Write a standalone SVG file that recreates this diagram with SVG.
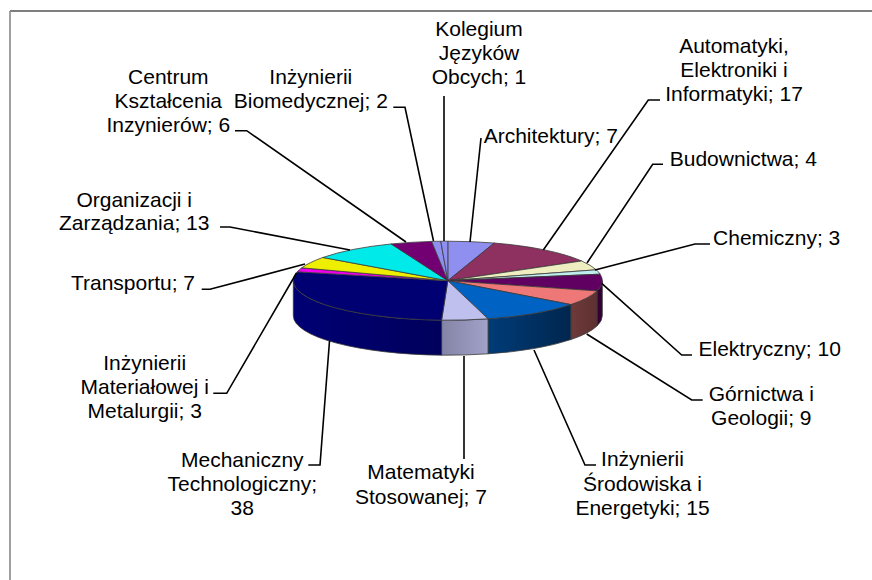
<svg xmlns="http://www.w3.org/2000/svg" width="872" height="580" viewBox="0 0 872 580">
<style>
.lbl{font-family:"Liberation Sans",Arial,sans-serif;font-size:21px;fill:#000;text-anchor:middle}
.sl{stroke:#3a3a3a;stroke-width:0.8;stroke-linejoin:round}
.ld{fill:none;stroke:#000;stroke-width:1.6}
</style>
<defs>
<linearGradient id="gMech" x1="0" y1="0" x2="1" y2="0"><stop offset="0" stop-color="#000074"/><stop offset="1" stop-color="#00005c"/></linearGradient>
<linearGradient id="gMat" x1="0" y1="0" x2="1" y2="0"><stop offset="0" stop-color="#8484a6"/><stop offset="1" stop-color="#a2a2ca"/></linearGradient>
<linearGradient id="gSrod" x1="0" y1="0" x2="1" y2="0"><stop offset="0" stop-color="#003c78"/><stop offset="1" stop-color="#00264e"/></linearGradient>
<linearGradient id="gGorn" x1="0" y1="0" x2="1" y2="0"><stop offset="0" stop-color="#6e3a3a"/><stop offset="1" stop-color="#5e3030"/></linearGradient>
</defs>
<rect width="872" height="580" fill="#fff"/>
<line x1="10" y1="11" x2="872" y2="11" stroke="#000" stroke-width="1.2"/>
<line x1="10" y1="11" x2="10" y2="580" stroke="#888" stroke-width="1.6"/>

<g id="architektury">
<path class="sl" fill="#8f8fef" d="M447.8,280.7 L447.8,241.2 A154.5,39.5 0 0 1 494.26,243.03 Z"/>
<text class="lbl" x="550.8" y="142.5">Architektury; 7</text>
</g>
<g id="automatyki">
<path class="sl" fill="#8e3060" d="M447.8,280.7 L494.26,243.03 A154.5,39.5 0 0 1 581.6,260.95 Z"/>
<text class="lbl" x="734" y="53">Automatyki,</text>
<text class="lbl" x="734" y="77">Elektroniki i</text>
<text class="lbl" x="734" y="101">Informatyki; 17</text>
</g>
<g id="budownictwa">
<path class="sl" fill="#eeeec0" d="M447.8,280.7 L581.6,260.95 A154.5,39.5 0 0 1 596.32,269.81 Z"/>
<text class="lbl" x="743.3" y="166">Budownictwa; 4</text>
</g>
<g id="chemiczny">
<path class="sl" fill="#c0eeee" d="M447.8,280.7 L596.32,269.81 A154.5,39.5 0 0 1 600.18,274.18 Z"/>
<text class="lbl" x="776.7" y="245">Chemiczny; 3</text>
</g>
<g id="elektryczny">
<path class="sl" fill="#330033" d="M602.3,280.7 A154.5,39.5 0 0 1 597.04,290.92 L597.04,325.92 A154.5,39.5 0 0 0 602.3,315.7 Z"/>
<path class="sl" fill="#600060" d="M447.8,280.7 L600.18,274.18 A154.5,39.5 0 0 1 597.04,290.92 Z"/>
<text class="lbl" x="769.7" y="355.5">Elektryczny; 10</text>
</g>
<g id="gornictwa">
<path class="sl" fill="url(#gGorn)" d="M597.04,290.92 A154.5,39.5 0 0 1 570.86,304.58 L570.86,339.58 A154.5,39.5 0 0 0 597.04,325.92 Z"/>
<path class="sl" fill="#ee7777" d="M447.8,280.7 L597.04,290.92 A154.5,39.5 0 0 1 570.86,304.58 Z"/>
<text class="lbl" x="761.3" y="400.5">Górnictwa i</text>
<text class="lbl" x="761.3" y="424.5">Geologii; 9</text>
</g>
<g id="srodowiska">
<path class="sl" fill="url(#gSrod)" d="M570.86,304.58 A154.5,39.5 0 0 1 488.05,318.84 L488.05,353.84 A154.5,39.5 0 0 0 570.86,339.58 Z"/>
<path class="sl" fill="#0062c2" d="M447.8,280.7 L570.86,304.58 A154.5,39.5 0 0 1 488.05,318.84 Z"/>
<text class="lbl" x="642.5" y="466">Inżynierii</text>
<text class="lbl" x="642.5" y="490.5">Środowiska i</text>
<text class="lbl" x="642.5" y="515">Energetyki; 15</text>
</g>
<g id="matematyki">
<path class="sl" fill="url(#gMat)" d="M488.05,318.84 A154.5,39.5 0 0 1 441.6,320.17 L441.6,355.17 A154.5,39.5 0 0 0 488.05,353.84 Z"/>
<path class="sl" fill="#c0c0ee" d="M447.8,280.7 L488.05,318.84 A154.5,39.5 0 0 1 441.6,320.17 Z"/>
<text class="lbl" x="421" y="479">Matematyki</text>
<text class="lbl" x="421" y="503.5">Stosowanej; 7</text>
</g>
<g id="mechaniczny">
<path class="sl" fill="url(#gMech)" d="M441.6,320.17 A154.5,39.5 0 0 1 293.3,280.7 L293.3,315.7 A154.5,39.5 0 0 0 441.6,355.17 Z"/>
<path class="sl" fill="#000072" d="M447.8,280.7 L441.6,320.17 A154.5,39.5 0 0 1 297.26,271.81 Z"/>
<text class="lbl" x="242.3" y="466.5">Mechaniczny</text>
<text class="lbl" x="242.3" y="491">Technologiczny;</text>
<text class="lbl" x="242.3" y="515">38</text>
</g>
<g id="materialowej">
<path class="sl" fill="#ee00ee" d="M447.8,280.7 L297.26,271.81 A154.5,39.5 0 0 1 301.72,267.84 Z"/>
<text class="lbl" x="144.7" y="369.5">Inżynierii</text>
<text class="lbl" x="144.7" y="393.5">Materiałowej i</text>
<text class="lbl" x="144.7" y="417.5">Metalurgii; 3</text>
</g>
<g id="transportu">
<path class="sl" fill="#eeee00" d="M447.8,280.7 L301.72,267.84 A154.5,39.5 0 0 1 322.81,257.48 Z"/>
<text class="lbl" x="133" y="290">Transportu; 7</text>
</g>
<g id="organizacji">
<path class="sl" fill="#00eaea" d="M447.8,280.7 L322.81,257.48 A154.5,39.5 0 0 1 391.18,243.95 Z"/>
<text class="lbl" x="134.2" y="206.5">Organizacji i</text>
<text class="lbl" x="134.2" y="230">Zarządzania; 13</text>
</g>
<g id="centrum">
<path class="sl" fill="#720072" d="M447.8,280.7 L391.18,243.95 A154.5,39.5 0 0 1 431.65,241.42 Z"/>
<text class="lbl" x="168.3" y="83.5">Centrum</text>
<text class="lbl" x="168.3" y="107.5">Kształcenia</text>
<text class="lbl" x="168.3" y="131.5">Inzynierów; 6</text>
</g>
<g id="biomedycznej">
<path class="sl" fill="#8f8fef" d="M447.8,280.7 L431.65,241.42 A154.5,39.5 0 0 1 440.79,241.24 Z"/>
<text class="lbl" x="310.8" y="83.5">Inżynierii</text>
<text class="lbl" x="310.8" y="107.5">Biomedycznej; 2</text>
</g>
<g id="kolegium">
<path class="sl" fill="#8f8fef" d="M447.8,280.7 L440.79,241.24 A154.5,39.5 0 0 1 447.8,241.2 Z"/>
<text class="lbl" x="479" y="36">Kolegium</text>
<text class="lbl" x="479" y="60">Języków</text>
<text class="lbl" x="479" y="84">Obcych; 1</text>
</g>

<g id="connectors">
<path class="ld" d="M444,96 L444,241"/>
<path class="ld" d="M481,138 L470,242"/>
<path class="ld" d="M660,100 L648.3,100 L543.3,250"/>
<path class="ld" d="M663,164.3 L652.7,164.3 L587,263"/>
<path class="ld" d="M710,244 L695,244 L595,270"/>
<path class="ld" d="M692,355 L681.7,355 L601.7,283.3"/>
<path class="ld" d="M702.7,400 L691.7,400 L586.7,334"/>
<path class="ld" d="M596,465 L585,465 L534,350"/>
<path class="ld" d="M464,356 L464,459"/>
<path class="ld" d="M308.3,465 L320,465 L329.5,341"/>
<path class="ld" d="M213.3,393.3 L226.7,393.3 L296.5,273"/>
<path class="ld" d="M201.7,289.3 L210,289.3 L305,264"/>
<path class="ld" d="M220,227 L230,227 L350,250"/>
<path class="ld" d="M235,130.7 L246.7,130.7 L406,242"/>
<path class="ld" d="M393.3,107.3 L405,107.3 L433.5,241"/>
</g>
</svg>
